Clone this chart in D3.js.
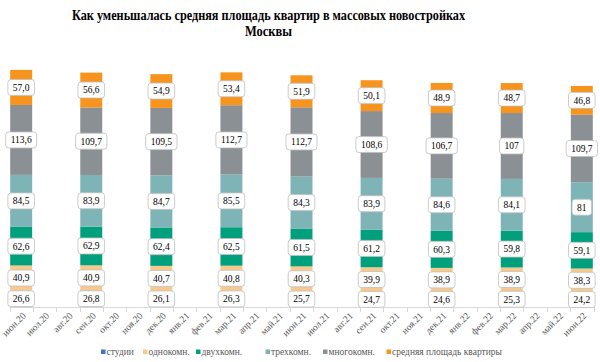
<!DOCTYPE html>
<html><head><meta charset="utf-8">
<script src="https://cdn.jsdelivr.net/npm/d3@7/dist/d3.min.js"></script>
<style>body{margin:0;background:#fff}svg{display:block}</style>
</head><body>
<svg id="c" width="600" height="362"></svg>
<script>
const months = ["июн.20","июл.20","авг.20","сен.20","окт.20","ноя.20","дек.20","янв.21","фев.21","мар.21","апр.21","май.21","июн.21","июл.21","авг.21","сен.21","окт.21","ноя.21","дек.21","янв.22","фев.22","мар.22","апр.22","май.22","июн.22"];
const barMonths = ["июн.20","сен.20","дек.20","мар.21","июн.21","сен.21","дек.21","мар.22","июн.22"];
const seriesNames = ["студии","однокомн.","двухкомн.","трехкомн.","многокомн.","средняя площадь квартиры"];
const studio = ["26,6","26,8","26,1","26,3","25,7","24,7","24,6","25,3","24,2"];
const oneRoom = ["40,9","40,9","40,7","40,8","40,3","39,9","38,9","38,9","38,3"];
const twoRoom = ["62,6","62,9","62,4","62,5","61,5","61,2","60,3","59,8","59,1"];
const threeRoom = ["84,5","83,9","84,7","85,5","84,3","83,9","84,6","84,1","81"];
const multiRoom = ["113,6","109,7","109,5","112,7","112,7","108,6","106,7","107","109,7"];
const average = ["57,0","56,6","54,9","53,4","51,9","50,1","48,9","48,7","46,8"];
const colors = ["#4472c4","#f8c98a","#00a07c","#7fb4b7","#8b9095","#f7941d"];

const series = [studio, oneRoom, twoRoom, threeRoom, multiRoom, average];
const num = s => +s.replace(",", ".");
const rows = barMonths.map((m, i) => {
  const r = {month: m};
  seriesNames.forEach((n, j) => { r[n] = num(series[j][i]); r[n + "_lbl"] = series[j][i]; });
  return r;
});
const stack = d3.stack().keys(seriesNames)(rows);

const svg = d3.select("#c");
const FF = '"Liberation Serif"';

const x = d3.scaleBand().domain(months).range([9.5, 593.5]).paddingInner(0).paddingOuter(0);
const y = d3.scaleLinear().domain([0, 450]).range([307, 30]);
const bw = x.bandwidth() * 0.94;

// title
svg.append("text").attr("x", 268.5).attr("y", 20).attr("text-anchor", "middle")
  .attr("textLength", 393).attr("lengthAdjust", "spacingAndGlyphs")
  .style("font-family", FF).style("font-weight", "bold").style("font-size", "14px").attr("fill", "#000")
  .text("Как уменьшалась средняя площадь квартир в массовых новостройках");
svg.append("text").attr("x", 268.5).attr("y", 36).attr("text-anchor", "middle")
  .attr("textLength", 47).attr("lengthAdjust", "spacingAndGlyphs")
  .style("font-family", FF).style("font-weight", "bold").style("font-size", "14px").attr("fill", "#000")
  .text("Москвы");

// bars
const g = svg.append("g");
stack.forEach((s, j) => {
  g.selectAll(null).data(s).enter().append("rect")
    .attr("x", d => x(d.data.month) + (x.bandwidth() - bw) / 2)
    .attr("width", bw)
    .attr("y", d => y(d[1]))
    .attr("height", d => y(d[0]) - y(d[1]))
    .attr("fill", colors[j]);
});

// axis
const axisG = svg.append("g");
axisG.append("line").attr("x1", x.range()[0]).attr("x2", x.range()[1])
  .attr("y1", y(0) + 0.5).attr("y2", y(0) + 0.5).attr("stroke", "#d9d9d9");
const bounds = months.map(m => x(m)).concat([x.range()[1]]);
axisG.selectAll(null).data(bounds).enter().append("line")
  .attr("x1", d => Math.round(d) + 0.5).attr("x2", d => Math.round(d) + 0.5)
  .attr("y1", y(0)).attr("y2", y(0) + 5).attr("stroke", "#d9d9d9");
axisG.selectAll(null).data(months).enter().append("text")
  .attr("transform", m => `translate(${x(m) + x.bandwidth() / 2 + 3},${y(0) + 7}) rotate(-45)`)
  .attr("text-anchor", "end").attr("dy", "0.35em")
  .style("font-family", FF).style("font-size", "9.5px").attr("fill", "#595959")
  .text(m => m);

// labels
const lg = svg.append("g");
stack.forEach((s, j) => {
  s.forEach(d => {
    const cx = x(d.data.month) + x.bandwidth() / 2;
    const cy = (y(d[0]) + y(d[1])) / 2;
    const lbl = d.data[seriesNames[j] + "_lbl"];
    const t = lg.append("text").attr("x", cx).attr("y", cy).attr("dy", "0.35em")
      .attr("text-anchor", "middle").style("font-family", FF).style("font-size", "9.5px")
      .attr("fill", "#000").text(lbl);
    const w = t.node().getComputedTextLength() + 10;
    lg.insert("rect", () => t.node())
      .attr("x", cx - w / 2).attr("y", cy - 8).attr("width", w).attr("height", 16)
      .attr("rx", 3).attr("fill", "#fff").attr("stroke", "#bfbfbf").attr("stroke-width", 0.8);
  });
});

// legend
const legX = [101, 143, 196, 265.5, 323, 386.5];
const leg = svg.append("g");
seriesNames.forEach((n, j) => {
  leg.append("rect").attr("x", legX[j]).attr("y", 349.5).attr("width", 4.5).attr("height", 4.5).attr("fill", colors[j]);
  leg.append("text").attr("x", legX[j] + 5.5).attr("y", 355)
    .style("font-family", FF).style("font-size", "9.5px").attr("fill", "#595959").text(n);
});
</script>
</body></html>
